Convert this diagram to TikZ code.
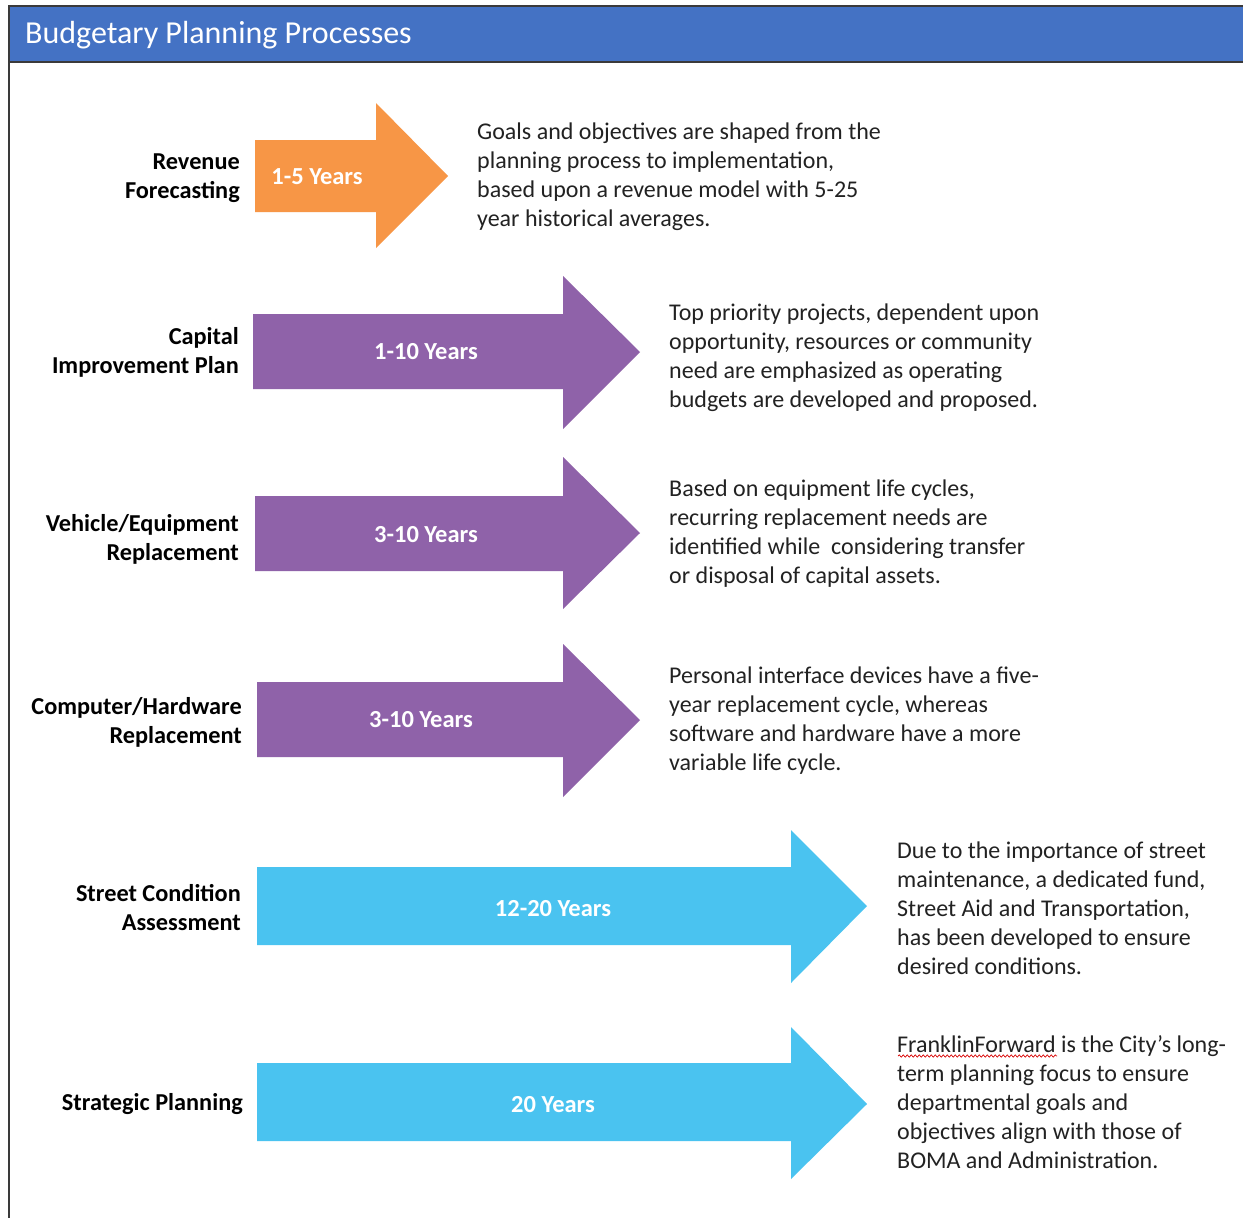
\documentclass[tikz,border=0pt]{standalone}
\usepackage{fontspec}
\setmainfont{Carlito}
\usetikzlibrary{decorations.pathmorphing}
\definecolor{hdrblue}{HTML}{4472C4}
\definecolor{orangeA}{HTML}{F79646}
\definecolor{purpleA}{HTML}{8F62A9}
\definecolor{blueA}{HTML}{4AC3F0}
\definecolor{bordergray}{HTML}{3A3A3A}
\definecolor{txtgray}{HTML}{222222}
\tikzset{
  lbl/.style={anchor=east, align=right, font=\fontsize{24.3}{29}\selectfont\bfseries, text=black, inner sep=0pt},
  desc/.style={anchor=west, align=left, font=\fontsize{24}{29}\selectfont, text=txtgray, inner sep=0pt},
  yrs/.style={font=\fontsize{24.5}{27}\selectfont\bfseries, text=white, inner sep=0pt},
}
\begin{document}
\begin{tikzpicture}[x=1pt,y=-1pt]
\useasboundingbox (0,0) rectangle (1243,1218);
\fill[white] (0,0) rectangle (1243,1218);
% header
\fill[hdrblue] (9,6) rectangle (1243,62);
\draw[bordergray, line width=1.5pt] (1243,6) -- (9,6) -- (9,1218);
\draw[bordergray, line width=1.2pt] (9,62) -- (1243,62);
\node[anchor=west, inner sep=0pt, text=white, font=\fontsize{32}{36}\selectfont] (title) at (25,35) {Budgetary Planning Processes};

% arrows
\fill[orangeA] (255,140) -- (376,140) -- (376,103) -- (448,176) -- (376,248) -- (376,212) -- (255,212) -- cycle;
\fill[purpleA] (253,314) -- (563,314) -- (563,276) -- (640,352) -- (563,429) -- (563,389) -- (253,389) -- cycle;
\fill[purpleA] (255,496) -- (563,496) -- (563,457) -- (640,533) -- (563,609) -- (563,571) -- (255,571) -- cycle;
\fill[purpleA] (257,682) -- (563,682) -- (563,644) -- (640,720) -- (563,797) -- (563,757) -- (257,757) -- cycle;
\fill[blueA] (257,867) -- (791,867) -- (791,830) -- (867,906) -- (791,983) -- (791,945) -- (257,945) -- cycle;
\fill[blueA] (257,1063) -- (791,1063) -- (791,1027) -- (867,1104) -- (791,1179) -- (791,1141) -- (257,1141) -- cycle;

% arrow texts
\node[yrs] (y1) at (317,177) {1-5 Years};
\node[yrs] (y2) at (426,352) {1-10 Years};
\node[yrs] (y3) at (426,535) {3-10 Years};
\node[yrs] (y4) at (421,720) {3-10 Years};
\node[yrs] (y5) at (553,909) {12-20 Years};
\node[yrs] (y6) at (553,1105) {20 Years};

% labels
\node[lbl] (l1) at (240,178) {Revenue\\Forecasting};
\node[lbl] (l2) at (239,352) {Capital\\Improvement Plan};
\node[lbl] (l3) at (239,539) {Vehicle/Equipment\\Replacement};
\node[lbl] (l4) at (242,722) {Computer/Hardware\\Replacement};
\node[lbl] (l5) at (241,908) {Street Condition\\Assessment};
\node[lbl] (l6) at (243,1104) {Strategic Planning};

% descriptions
\node[desc] (d1) at (477,177) {Goals and objectives are shaped from the\\planning process to implementation,\\based upon a revenue model with 5-25\\year historical averages.};
\node[desc] (d2) at (669,358) {Top priority projects, dependent upon\\opportunity, resources or community\\need are emphasized as operating\\budgets are developed and proposed.};
\node[desc] (d3) at (669,534) {Based on equipment life cycles,\\recurring replacement needs are\\identified while\ \ considering transfer\\or disposal of capital assets.};
\node[desc] (d4) at (669,721) {Personal interface devices have a five-\\year replacement cycle, whereas\\software and hardware have a more\\variable life cycle.};
\node[desc] (d5) at (897,908) {Due to the importance of street\\maintenance, a dedicated fund,\\Street Aid and Transportation,\\has been developed to ensure\\desired conditions.};
\node[desc] (d6) at (897,1102) {FranklinForward is the City’s long-\\term planning focus to ensure\\departmental goals and\\objectives align with those of\\BOMA and Administration.};
\coordinate (sq1) at (898,1056);
\coordinate (sq2) at (1057,1056);
\draw[red!85!black, line width=0.7pt, decorate, decoration={snake, segment length=4pt, amplitude=1.1pt}] (sq1) -- (sq2);
\end{tikzpicture}
\end{document}
